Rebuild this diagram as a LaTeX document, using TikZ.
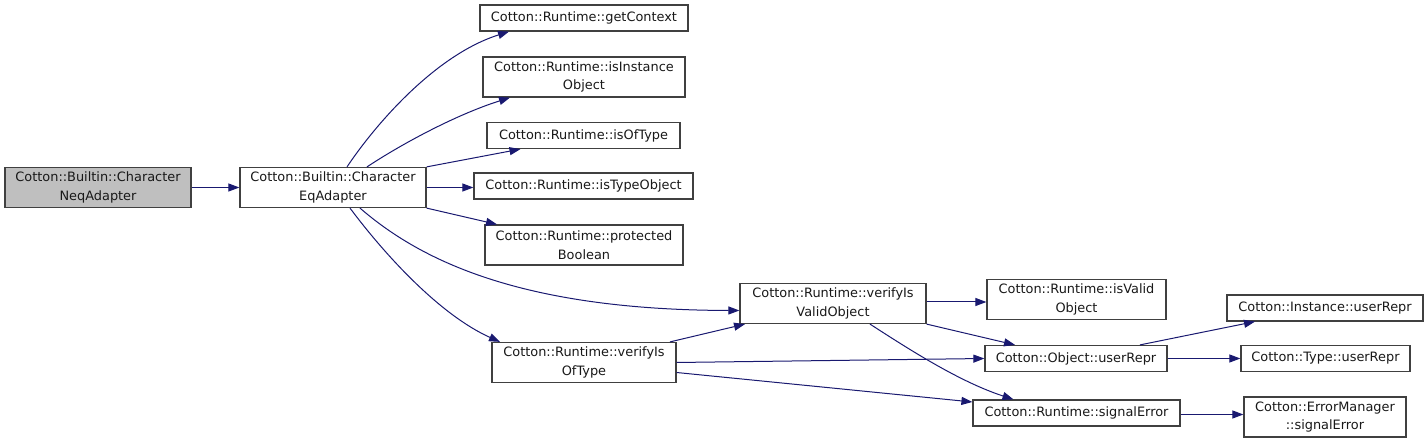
\documentclass[tikz,border=0pt]{standalone}
\usepackage{fontspec}
\setmainfont{DejaVu Sans}
\usepackage{xcolor}
\usetikzlibrary{arrows.meta}

\definecolor{edgeblue}{HTML}{191970}
\definecolor{boxline}{HTML}{404040}
\definecolor{rootgray}{HTML}{BFBFBF}

\begin{document}
\begin{tikzpicture}[x=1pt, y=-1pt,
    fn/.style={draw=boxline, line width=1.2pt, fill=white, align=center, inner sep=1pt,
        font=\fontsize{12.9}{18.5}\selectfont, text=black!90},
    oneline/.style={fn, minimum height=26pt},
    twoline/.style={fn, minimum height=40pt},
    call/.style={draw=edgeblue, line width=1pt, -{Triangle[length=11pt, width=8pt]}}]
    \useasboundingbox (0,0) rectangle (1428,443);

    % Caller and callee
    \node[twoline, fill=rootgray, minimum width=186pt] (neq) at (98,187.5) {Cotton::Builtin::Character\\NeqAdapter};
    \node[twoline, minimum width=186pt] (eq) at (333,187.5) {Cotton::Builtin::Character\\EqAdapter};

    % First level of calls
    \node[oneline, minimum width=208pt] (getctx) at (584,18) {Cotton::Runtime::getContext};
    \node[twoline, minimum width=202pt] (isinst) at (584,77) {Cotton::Runtime::isInstance\\Object};
    \node[oneline, minimum width=193pt] (isoftype) at (583.5,135.5) {Cotton::Runtime::isOfType};
    \node[oneline, minimum width=219pt] (istypeobj) at (583.5,186) {Cotton::Runtime::isTypeObject};
    \node[twoline, minimum width=198pt] (protbool) at (584,245) {Cotton::Runtime::protected\\Boolean};
    \node[twoline, minimum width=186pt] (verval) at (833,303.5) {Cotton::Runtime::verifyIs\\ValidObject};
    \node[twoline, minimum width=184pt] (veroft) at (584,362.5) {Cotton::Runtime::verifyIs\\OfType};

    % Deeper calls
    \node[twoline, minimum width=179pt] (isvalid) at (1076.5,299.5) {Cotton::Runtime::isValid\\Object};
    \node[oneline, minimum width=182pt] (objrepr) at (1076,358.5) {Cotton::Object::userRepr};
    \node[oneline, minimum width=207pt] (sigerr) at (1076.5,413) {Cotton::Runtime::signalError};
    \node[oneline, minimum width=196pt] (instrepr) at (1325,308) {Cotton::Instance::userRepr};
    \node[oneline, minimum width=169pt] (typerepr) at (1325.5,358.5) {Cotton::Type::userRepr};
    \node[twoline, minimum width=162pt] (errmgr) at (1325,417) {Cotton::ErrorManager\\::signalError};

    % Edges out of the adapters
    \draw[call] (neq.east) -- (neq.east -| eq.west);
    \draw[call] ([xshift=14pt]eq.north) .. controls (375,125) and (435,55) .. ([xshift=-75pt]getctx.south);
    \draw[call] ([xshift=34pt]eq.north) .. controls (400,145) and (455,115) .. ([xshift=-74pt]isinst.south);
    \draw[call] (eq.north east) -- ([xshift=-63pt]isoftype.south);
    \draw[call] (eq.east) -- (eq.east -| istypeobj.west);
    \draw[call] (eq.south east) -- ([xshift=-87pt]protbool.north);
    \draw[call] ([xshift=27pt]eq.south) .. controls (420,260) and (520,310) .. ([yshift=-7pt]verval.west);
    \draw[call] ([xshift=17pt]eq.south) .. controls (385,255) and (440,315) .. ([xshift=-84pt]veroft.north);

    % Edges out of the verify functions
    \draw[call] ([xshift=86pt]veroft.north) -- ([xshift=-88pt]verval.south);
    \draw[call] ([yshift=1.5pt]verval.east) -- ([yshift=1.5pt]verval.east -| isvalid.west);
    \draw[call] (verval.south east) -- ([xshift=-61pt]objrepr.north);
    \draw[call] ([xshift=37pt]verval.south) .. controls (910,350) and (960,382) .. ([xshift=-63pt]sigerr.north);
    \draw[call] (veroft.east) -- (objrepr.west);
    \draw[call] ([yshift=-10pt]veroft.east) -- ([yshift=11pt]sigerr.west);

    % Edges on the right
    \draw[call] ([xshift=64pt]objrepr.north) -- ([xshift=-70pt]instrepr.south);
    \draw[call] (objrepr.east) -- (objrepr.east -| typerepr.west);
    \draw[call] ([yshift=-1.5pt]sigerr.east) -- ([yshift=-1.5pt]sigerr.east -| errmgr.west);
\end{tikzpicture}
\end{document}
